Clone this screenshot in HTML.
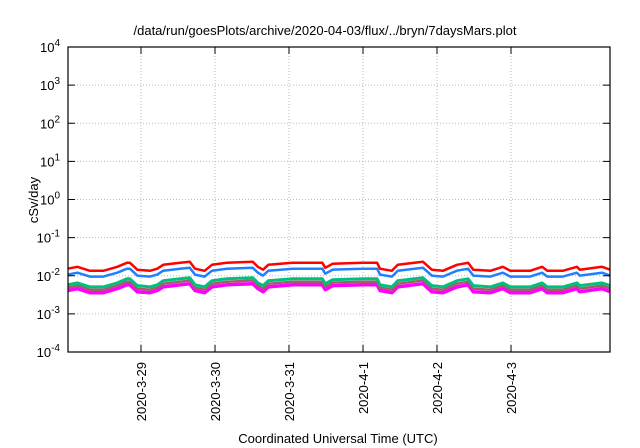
<!DOCTYPE html>
<html><head><meta charset="utf-8"><style>
body{margin:0;background:#fff;}
svg{display:block;font-family:"Liberation Sans",sans-serif;}
</style></head><body>
<svg id="chart" width="640" height="448" xmlns="http://www.w3.org/2000/svg">
<rect width="640" height="448" fill="#fff"/>
<text x="325" y="35" font-size="13" text-anchor="middle">/data/run/goesPlots/archive/2020-04-03/flux/../bryn/7daysMars.plot</text>
<text transform="translate(38,200) rotate(-90)" font-size="13" text-anchor="middle">cSv/day</text>
<text x="338" y="443" font-size="13" text-anchor="middle">Coordinated Universal Time (UTC)</text>
<g id="grid"></g><g id="series"></g><g id="axes"></g>
</svg>
<script>
const times=[0.01,0.14,0.31,0.49,0.68,0.81,0.85,0.95,1.12,1.22,1.30,1.53,1.66,1.73,1.86,1.96,2.16,2.51,2.58,2.65,2.72,3.05,3.45,3.49,3.59,4.00,4.19,4.23,4.39,4.47,4.81,4.93,5.08,5.27,5.42,5.49,5.72,5.89,5.99,6.26,6.42,6.49,6.70,6.89,6.93,7.23,7.34];
const redVals=[15.3,17.2,13.5,13.5,17.2,21.9,21.9,14.4,13.5,15.3,19.4,21.9,23.3,15.3,13.5,19.4,21.9,23.3,17.2,14.4,19.4,21.9,21.9,16.2,20.7,21.9,21.9,15.3,13.5,19.4,23.3,14.4,13.5,19.4,21.9,14.4,13.5,17.2,13.5,13.5,17.2,13.5,13.5,17.2,14.4,17.2,14.4];
const blueVals=[10.7,12.0,9.5,9.5,12.0,15.3,15.3,10.1,9.5,10.7,13.6,15.3,16.3,10.7,9.5,13.6,15.3,16.3,12.0,10.1,13.6,15.3,15.3,11.3,14.5,15.3,15.3,10.7,9.5,13.6,16.3,10.1,9.5,13.6,15.3,10.1,9.5,12.0,9.5,9.5,12.0,9.5,9.5,12.0,10.1,12.0,10.1];
const greenVals=[5.8,6.5,5.1,5.1,6.5,8.3,8.3,5.5,5.1,5.8,7.4,8.3,8.9,5.8,5.1,7.4,8.3,8.9,6.5,5.5,7.4,8.3,8.3,6.2,7.9,8.3,8.3,5.8,5.1,7.4,8.9,5.5,5.1,7.4,8.3,5.5,5.1,6.5,5.1,5.1,6.5,5.1,5.1,6.5,5.5,6.5,5.5];
const brownVals=[4.9,5.5,4.3,4.3,5.5,7.0,7.0,4.6,4.3,4.9,6.2,7.0,7.5,4.9,4.3,6.2,7.0,7.5,5.5,4.6,6.2,7.0,7.0,5.2,6.6,7.0,7.0,4.9,4.3,6.2,7.5,4.6,4.3,6.2,7.0,4.6,4.3,5.5,4.3,4.3,5.5,4.3,4.3,5.5,4.6,5.5,4.6];
const magentaVals=[4.1,4.6,3.6,3.6,4.6,5.8,5.8,3.8,3.6,4.1,5.1,5.8,6.2,4.1,3.6,5.1,5.8,6.2,4.6,3.8,5.1,5.8,5.8,4.3,5.5,5.8,5.8,4.1,3.6,5.1,6.2,3.8,3.6,5.1,5.8,3.8,3.6,4.6,3.6,3.6,4.6,3.6,3.6,4.6,3.8,4.6,3.8];
const xTickDays=[1,2,3,4,5,6];
const xTickLabels=["2020-3-29","2020-3-30","2020-3-31","2020-4-1","2020-4-2","2020-4-3"];
const yExps=[-4,-3,-2,-1,0,1,2,3,4];

const NS="http://www.w3.org/2000/svg";
const L=68,R=610,T=47,B=352;
const xS=d=>67+d*74;
const yS=v=>B-(Math.log10(v)+4)/8*(B-T);
function mk(tag,at,parent){const e=document.createElementNS(NS,tag);for(const k in at)e.setAttribute(k,at[k]);parent.appendChild(e);return e;}
const grid=document.getElementById('grid'),axes=document.getElementById('axes'),ser=document.getElementById('series');
yExps.forEach(p=>{
  const y=yS(Math.pow(10,p));
  if(p>-4&&p<4){const g=mk('line',{x1:L,x2:R,y1:y,y2:y,stroke:'#bbb','stroke-dasharray':'1,2'},grid);
  
  }
  const t1=mk('line',{x1:L,x2:L+7,y1:y,y2:y,stroke:'#000'},axes);
  
  
  const t2=mk('line',{x1:R-7,x2:R,y1:y,y2:y,stroke:'#000'},axes);
  
  
  const tx=mk('text',{x:60,y:y+5,'font-size':13,'text-anchor':'end'},axes);
  
  
  tx.innerHTML='10<tspan dy="-6" font-size="10">'+p+'</tspan>';
});
xTickDays.forEach((d,i)=>{
  const x=xS(d);
  const g=mk('line',{x1:x,x2:x,y1:T,y2:B,stroke:'#bbb','stroke-dasharray':'1,2'},grid);
  
  
  const t=mk('line',{x1:x,x2:x,y1:B-7,y2:B,stroke:'#000'},axes);
  
  
  const t2=mk('line',{x1:x,x2:x,y1:T,y2:T+7,stroke:'#000'},axes);
  
  
  const tx=mk('text',{transform:`translate(${x+5},362) rotate(-90)`,'font-size':13,'text-anchor':'end'},axes);
  
  
  tx.textContent=xTickLabels[i];
});
const fr=mk('rect',{x:L,y:T,width:R-L,height:B-T,fill:'none',stroke:'#000','stroke-width':1.2},axes);


const series=[[magentaVals,'#ff00ff',3.5,'magenta-series'],[brownVals,'#a0606a',2.5,'brown-series'],[greenVals,'#00c080',3,'green-series'],[blueVals,'#1e7fff',2.5,'blue-series'],[redVals,'#ff0000',2.5,'red-series']];
series.forEach(([vals,c,w,n])=>{
  const pts=times.map((t,i)=>xS(t).toFixed(1)+','+yS(vals[i]/1000).toFixed(1)).join(' ');
  const p=mk('polyline',{points:pts,fill:'none',stroke:c,'stroke-width':w,'stroke-linejoin':'round'},ser);
  
  
});
</script>
</body></html>
